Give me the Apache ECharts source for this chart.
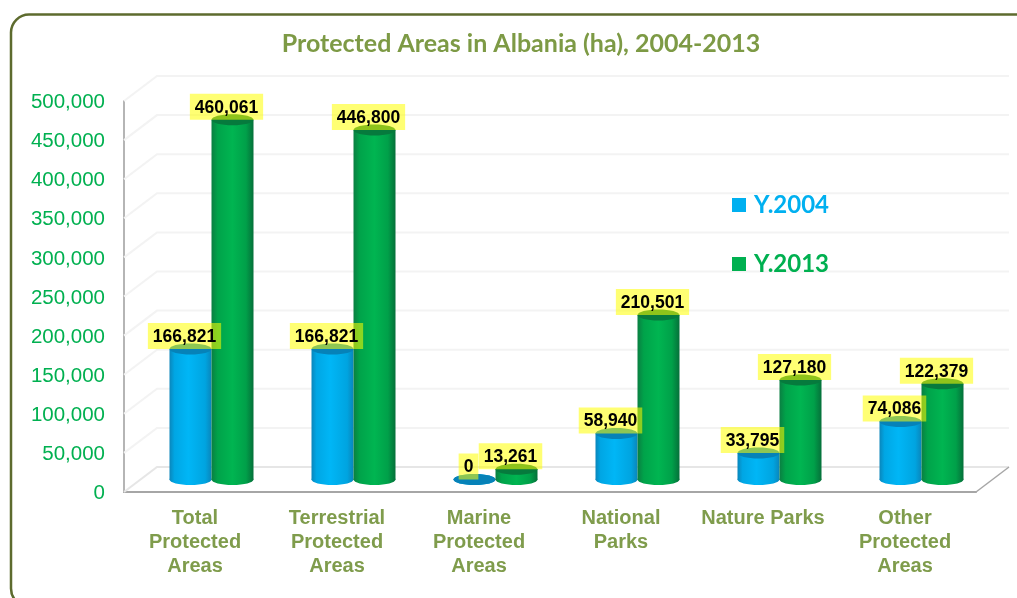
<!DOCTYPE html>
<html>
<head>
<meta charset="utf-8">
<title>Protected Areas in Albania</title>
<script src="https://cdn.jsdelivr.net/npm/echarts@6/dist/echarts.min.js"></script>
<style>
	html, body { margin: 0; padding: 0; background: #fff; overflow: hidden; }
	#chart { width: 1017px; height: 598px; }
</style>
</head>
<body>
<div id="chart"></div>
<script>
	const categories = ['Total\nProtected\nAreas', 'Terrestrial\nProtected\nAreas', 'Marine\nProtected\nAreas', 'National\nParks', 'Nature Parks', 'Other\nProtected\nAreas'];
	const y2004 = [166821, 166821, 0, 58940, 33795, 74086];
	const y2013 = [460061, 446800, 13261, 210501, 127180, 122379];
	const yTicks = [0, 50000, 100000, 150000, 200000, 250000, 300000, 350000, 400000, 450000, 500000];

	// fake 3d: the bars stand half way into the box
	const depthX = 33, depthY = 25;
	const barHalf = 21, capRy = 5.5;

	function gradient(stops) {
		return new echarts.graphic.LinearGradient(0, 0, 1, 0, stops);
	}
	const blueBody = () => gradient([
		{ offset: 0, color: '#0a86bb' }, { offset: 0.12, color: '#00a6e4' },
		{ offset: 0.45, color: '#00b6f6' }, { offset: 0.85, color: '#00a4e0' }, { offset: 1, color: '#0a86bb' }
	]);
	const greenBody = () => gradient([
		{ offset: 0, color: '#0a7f42' }, { offset: 0.15, color: '#00a34a' },
		{ offset: 0.5, color: '#00b551' }, { offset: 0.82, color: '#00a049' }, { offset: 1, color: '#05703a' }
	]);

	function cylinder(side, bodyColor, capColor) {
		return function (params, api) {
			const p = api.coord([api.value(0), api.value(1)]);
			const cx = p[0] + depthX / 2 + side * barHalf;
			const top = p[1] - depthY / 2;
			const base = api.coord([api.value(0), 0])[1] - depthY / 2;
			return {
				type: 'group',
				children: [
					{ type: 'ellipse', shape: { cx: cx, cy: base, rx: barHalf, ry: capRy }, style: { fill: bodyColor() } },
					{ type: 'rect', shape: { x: cx - barHalf, y: top, width: barHalf * 2, height: base - top }, style: { fill: bodyColor() } },
					{ type: 'ellipse', shape: { cx: cx, cy: top, rx: barHalf, ry: capRy }, style: { fill: capColor } }
				]
			};
		};
	}

	function valueLabel(side) {
		return function (params, api) {
			const p = api.coord([api.value(0), api.value(1)]);
			return {
				type: 'text',
				x: p[0] + depthX / 2 + side * barHalf - 6,
				y: p[1] - depthY / 2,
				style: {
					text: echarts.format.addCommas(api.value(1)),
					fontFamily: '"Liberation Sans"',
					fontWeight: 'bold',
					fontSize: 17.5,
					fill: '#000',
					align: 'center',
					verticalAlign: 'bottom',
					backgroundColor: 'rgba(255,255,0,0.55)',
					padding: [5, 5, 3, 5]
				}
			};
		};
	}

	// wall and floor lines, one per tick
	function wallLine(params, api) {
		const box = params.coordSys;
		const y = api.coord([0, api.value(0)])[1];
		const floor = api.value(0) === 0;
		const children = [
			{ type: 'polyline', shape: { points: [[box.x, y], [box.x + depthX, y - depthY], [box.x + box.width + depthX, y - depthY]] },
				style: { fill: null, stroke: floor ? '#e6e6e6' : '#f3f3f3', lineWidth: 2 } }
		];
		if (floor) {
			children.push({ type: 'line', shape: { x1: box.x + box.width, y1: y, x2: box.x + box.width + depthX, y2: y - depthY },
				style: { stroke: '#a6a6a6', lineWidth: 1.5 } });
		}
		return { type: 'group', children: children };
	}

	const pairs = values => values.map((v, i) => [i, v]);

	const chart = echarts.init(document.getElementById('chart'));
	chart.setOption({
		animation: false,
		backgroundColor: '#fff',
		title: {
			text: 'Protected Areas in Albania (ha), 2004-2013',
			left: 516,
			top: 26,
			textAlign: 'center',
			textStyle: { color: '#7d9a45', fontFamily: 'Lato', fontWeight: 'bold', fontSize: 25 }
		},
		legend: {
			orient: 'vertical',
			left: 727,
			top: 188,
			itemGap: 35,
			itemWidth: 14,
			itemHeight: 14,
			icon: 'rect',
			data: [
				{ name: 'Y.2004', textStyle: { color: '#00b0f0' } },
				{ name: 'Y.2013', textStyle: { color: '#00b050' } }
			],
			textStyle: { fontFamily: 'Lato', fontWeight: 'bold', fontSize: 24, padding: [0, 0, 0, 3] }
		},
		grid: { left: 124, top: 101, width: 852, height: 391, containLabel: false },
		xAxis: {
			type: 'category',
			data: categories,
			axisTick: { show: false },
			axisLine: { lineStyle: { color: '#a6a6a6', width: 2 } },
			axisLabel: {
				interval: 0,
				margin: 14,
				verticalAlign: 'top',
				color: '#7f9c4c',
				fontFamily: '"Liberation Sans"',
				fontWeight: 'bold',
				fontSize: 20,
				lineHeight: 24
			}
		},
		yAxis: {
			type: 'value',
			min: 0,
			max: 500000,
			interval: 50000,
			axisTick: { show: false },
			axisLine: { show: true, lineStyle: { color: '#b5b5b5', width: 2 } },
			splitLine: { show: false },
			axisLabel: {
				margin: 19,
				formatter: v => '{t|' + echarts.format.addCommas(v) + '}',
				rich: {
					t: {
						color: '#00b050',
						fontFamily: '"Liberation Sans"',
						fontSize: 20.5,
						padding: [3, 0, 0, 0]
					}
				}
			}
		},
		graphic: [{
			type: 'rect',
			shape: { x: 11, y: 14.5, width: 1120, height: 592, r: 18 },
			style: { fill: null, stroke: '#5d6b2e', lineWidth: 2.5 },
			silent: true,
			z: 10
		}],
		series: [
			{ type: 'custom', name: 'wall', z: 1, renderItem: wallLine, data: yTicks, encode: { y: 0 }, silent: true },
			{ type: 'custom', name: 'Y.2004', z: 2, itemStyle: { color: '#00b0f0' }, renderItem: cylinder(-1, blueBody, '#0682b8'), data: pairs(y2004), encode: { x: 0, y: 1 } },
			{ type: 'custom', name: 'Y.2013', z: 3, itemStyle: { color: '#00b050' }, renderItem: cylinder(1, greenBody, '#067a3d'), data: pairs(y2013), encode: { x: 0, y: 1 } },
			{ type: 'custom', name: 'label2004', z: 4, renderItem: valueLabel(-1), data: pairs(y2004), encode: { x: 0, y: 1 } },
			{ type: 'custom', name: 'label2013', z: 5, renderItem: valueLabel(1), data: pairs(y2013), encode: { x: 0, y: 1 } }
		]
	});
</script>
</body>
</html>
